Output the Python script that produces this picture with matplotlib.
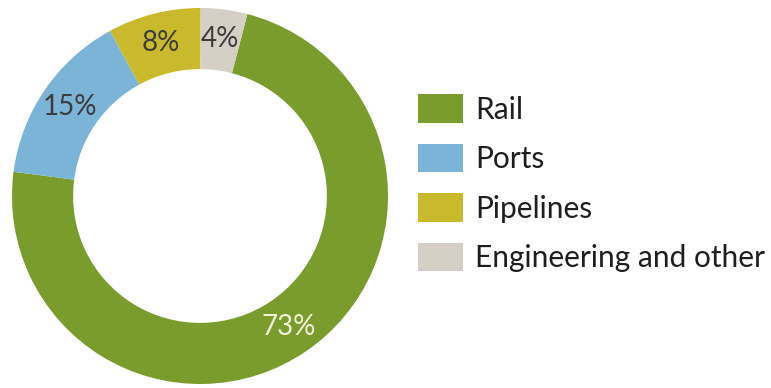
import matplotlib
matplotlib.use('Agg')
import matplotlib.pyplot as plt

plt.rcParams['font.family'] = ['Lato', 'DejaVu Sans']

# share of spending by sector
sectors = ['Rail', 'Ports', 'Pipelines', 'Engineering and other']
shares = [73, 15, 8, 4]
colors = ['#7a9c2c', '#7cb4d8', '#c9b92c', '#d6cfc6']
label_colors = ['#f2f2da', '#3c3c3c', '#3c3c3c', '#3c3c3c']

fig = plt.figure(figsize=(7.71, 3.88), dpi=100)
W, H = 771, 388
# pie axes sized in pixels: centre (200, 192 from bottom), radius 188
ax = fig.add_axes([12 / W, 4 / H, 376 / W, 376 / H])

wedges, texts, autotexts = ax.pie(
    shares, colors=colors, startangle=75.4, counterclock=False,
    autopct='%d%%', pctdistance=0.84,
    wedgeprops=dict(width=0.325, linewidth=0),
    textprops=dict(fontsize=20))
for t, c in zip(autotexts, label_colors):
    t.set_color(c)
ax.set_xlim(-1, 1)
ax.set_ylim(-1, 1)
ax.set_aspect('equal')

fs = 21.5
fpx = fs * 100 / 72
lgd = ax.legend(wedges, sectors, loc='upper left',
                bbox_to_anchor=(418 / W, (H - 94) / H), bbox_transform=fig.transFigure,
                frameon=False, fontsize=fs, borderpad=0, borderaxespad=0,
                handlelength=45 / fpx, handleheight=33 / fpx,
                handletextpad=12 / fpx, labelspacing=0.67)
for t in lgd.get_texts():
    t.set_color('#1e1e1e')

fig.savefig('out.png', dpi=100)
